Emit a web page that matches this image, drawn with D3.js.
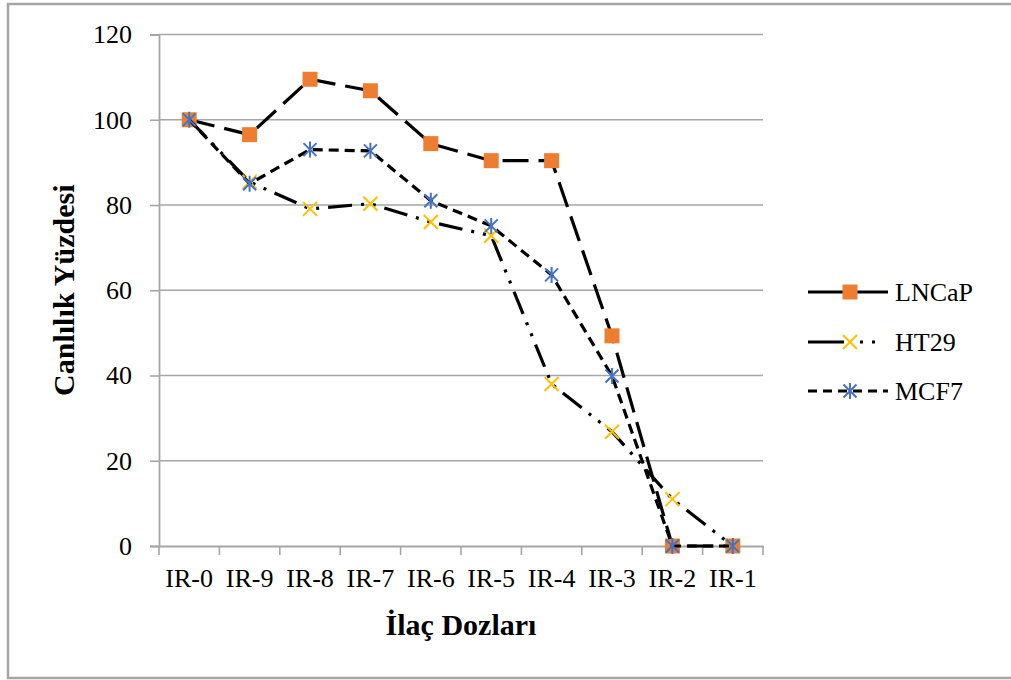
<!DOCTYPE html>
<html>
<head>
<meta charset="utf-8">
<script src="https://cdn.jsdelivr.net/npm/d3@7"></script>
<style>
  html, body { margin: 0; padding: 0; background: #fff; }
  svg { display: block; }
  text { font-family: "Liberation Serif", "Times New Roman", serif; fill: #000; }
</style>
</head>
<body>
<svg id="chart" width="1011" height="680"></svg>
<script>
// ---- data ----
const categories = ["IR-0", "IR-9", "IR-8", "IR-7", "IR-6", "IR-5", "IR-4", "IR-3", "IR-2", "IR-1"];
const lncap = [100, 96.5, 109.5, 106.8, 94.4, 90.4, 90.4, 49.3, 0, 0];
const ht29  = [100, 85.4, 79.1, 80.3, 76.0, 72.8, 38.0, 26.8, 11.0, 0];
const mcf7  = [100, 85.0, 93.0, 92.7, 81.0, 75.1, 63.6, 39.9, 0, 0];
const yTicks = [0, 20, 40, 60, 80, 100, 120];
const seriesNames = ["LNCaP", "HT29", "MCF7"];

const SERIF = "'Liberation Serif', 'Times New Roman', serif";
const svg = d3.select("#chart");

// outer border
svg.append("rect").attr("x", 8).attr("y", 4).attr("width", 1030).attr("height", 674)
  .attr("fill", "none").attr("stroke", "#a6a6a6").attr("stroke-width", 2.5);

const pLeft = 159, pRight = 763, pTop = 34.5, pBottom = 546;
const x = d3.scaleBand().domain(categories).range([pLeft, pRight]);
const y = d3.scaleLinear().domain([0, 120]).range([pBottom, pTop]);
const cx = c => x(c) + x.bandwidth() / 2;

// gridlines
svg.append("g").selectAll("line").data(yTicks.filter(t => t > 0)).join("line")
  .attr("x1", pLeft).attr("x2", pRight).attr("y1", d => y(d)).attr("y2", d => y(d))
  .attr("stroke", "#a6a6a6").attr("stroke-width", 1.6);

// y axis
const yAxis = svg.append("g").attr("transform", `translate(${pLeft},0)`)
  .call(d3.axisLeft(y).tickValues(yTicks).tickSize(9).tickPadding(18).tickFormat(d3.format("d")));
yAxis.attr("font-family", SERIF);
yAxis.select(".domain").attr("stroke", "#a6a6a6").attr("stroke-width", 1.8);
yAxis.selectAll(".tick line").attr("stroke", "#a6a6a6").attr("stroke-width", 1.6);
yAxis.selectAll(".tick text").style("font-size", "26px").style("font-family", SERIF).attr("fill", "#111");

// x axis
const xAxis = svg.append("g").attr("transform", `translate(0,${pBottom})`)
  .call(d3.axisBottom(x).tickSize(0).tickPadding(23));
xAxis.attr("font-family", SERIF);
xAxis.select(".domain").attr("stroke", "#a6a6a6").attr("stroke-width", 1.8);
xAxis.selectAll(".tick text").style("font-size", "26px").style("font-family", SERIF).attr("fill", "#111");
// category boundary ticks
const bounds = categories.map(c => x(c)).concat([pRight]);
svg.append("g").selectAll("line").data(bounds).join("line")
  .attr("x1", d => d).attr("x2", d => d).attr("y1", pBottom).attr("y2", pBottom + 9)
  .attr("stroke", "#a6a6a6").attr("stroke-width", 1.6);

// axis titles
svg.append("text").attr("transform", `translate(74,${(pTop + pBottom) / 2}) rotate(-90)`)
  .attr("text-anchor", "middle").style("font-size", "30px").style("font-weight", "bold")
  .style("font-family", SERIF).text("Canlılık Yüzdesi");
svg.append("text").attr("x", (pLeft + pRight) / 2).attr("y", 635)
  .attr("text-anchor", "middle").style("font-size", "30px").style("font-weight", "bold")
  .style("font-family", SERIF).text("İlaç Dozları");

// series
const styles = [
  { data: lncap, dash: "26,10", marker: "square", color: "#ED7D31" },
  { data: ht29,  dash: "24,9,3,9,3,9", marker: "x", color: "#FFC000" },
  { data: mcf7,  dash: "10,6", marker: "star", color: "#4472C4" }
];

function drawMarker(g, type, px, py, color) {
  if (type === "square") {
    g.append("rect").attr("x", px - 7.5).attr("y", py - 7.5).attr("width", 15).attr("height", 15)
      .attr("fill", color);
  } else if (type === "x") {
    const s = 7;
    g.append("path").attr("d", `M${px - s},${py - s}L${px + s},${py + s}M${px - s},${py + s}L${px + s},${py - s}`)
      .attr("stroke", color).attr("stroke-width", 2).attr("fill", "none");
  } else {
    const s = 6.5;
    g.append("path").attr("d", `M${px - s},${py - s}L${px + s},${py + s}M${px - s},${py + s}L${px + s},${py - s}M${px},${py - s - 1.5}L${px},${py + s + 1.5}`)
      .attr("stroke", color).attr("stroke-width", 2).attr("fill", "none");
  }
}

const line = d3.line().x((d, i) => cx(categories[i])).y(d => y(d));
styles.forEach(s => {
  const g = svg.append("g");
  g.append("path").attr("d", line(s.data)).attr("fill", "none").attr("stroke", "#000")
    .attr("stroke-width", 3.2).attr("stroke-dasharray", s.dash).attr("stroke-linecap", "butt");
  s.data.forEach((v, i) => drawMarker(g, s.marker, cx(categories[i]), y(v), s.color));
});

// legend
const legY = [292, 342, 391];
const legDash = ["none", "36,16,3,9,3,30", "9,6"];
seriesNames.forEach((name, i) => {
  const g = svg.append("g");
  g.append("line").attr("x1", 808).attr("x2", 888).attr("y1", legY[i]).attr("y2", legY[i])
    .attr("stroke", "#000").attr("stroke-width", 3.2).attr("stroke-dasharray", legDash[i]);
  drawMarker(g, styles[i].marker, 850, legY[i], styles[i].color);
  g.append("text").attr("x", 895).attr("y", legY[i] + 9).style("font-size", "26px")
    .style("font-family", SERIF).attr("fill", "#111").text(name);
});
</script>
</body>
</html>
